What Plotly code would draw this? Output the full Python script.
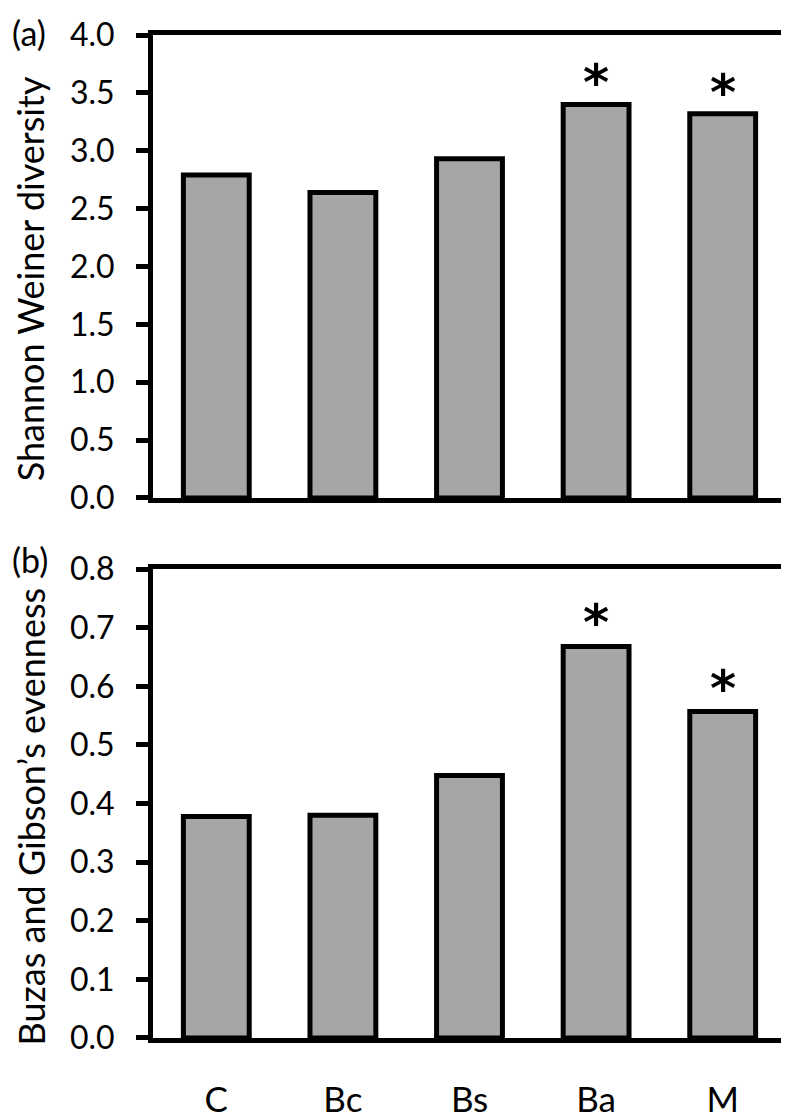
import plotly.graph_objects as go
from plotly.subplots import make_subplots

# data
sites = ["C", "Bc", "Bs", "Ba", "M"]
shannon = [2.79, 2.64, 2.93, 3.40, 3.32]
evenness = [0.378, 0.380, 0.448, 0.668, 0.557]
significant = [False, False, False, True, True]

FONT = "Lato"
BAR_COLOR = "#a6a6a6"

fig = make_subplots(rows=2, cols=1, shared_xaxes=False, vertical_spacing=0.071)

fig.add_trace(go.Bar(x=sites, y=shannon, marker=dict(color=BAR_COLOR, line=dict(color="black", width=5)),
                     showlegend=False), row=1, col=1)
fig.add_trace(go.Bar(x=sites, y=evenness, marker=dict(color=BAR_COLOR, line=dict(color="black", width=5)),
                     showlegend=False), row=2, col=1)

# significance stars
star_font = dict(family="DejaVu Sans", size=50, color="black", weight="bold")
for i, s in enumerate(sites):
    if not significant[i]:
        continue
    fig.add_annotation(x=s, y=shannon[i], xref="x", yref="y", text="*", showarrow=False,
                       yanchor="bottom", yshift=-10, font=star_font)
    fig.add_annotation(x=s, y=evenness[i], xref="x2", yref="y2", text="*", showarrow=False,
                       yanchor="bottom", yshift=-8, font=star_font)

axis_common = dict(showline=True, linecolor="black", linewidth=5, mirror=True, showgrid=False, zeroline=False)

fig.update_xaxes(**axis_common, ticks="", ticklabelstandoff=27,
                 tickfont=dict(family=FONT, size=35, color="black"))
fig.update_xaxes(showticklabels=False, row=1, col=1)
fig.update_yaxes(**axis_common, ticks="outside", ticklen=12, tickwidth=5, tickcolor="black",
                 ticklabelstandoff=15, tickfont=dict(family=FONT, size=32, color="black"), tickformat=".1f")
fig.update_yaxes(range=[0, 4.0], dtick=0.5, row=1, col=1)
fig.update_yaxes(range=[0, 0.8], dtick=0.1, row=2, col=1)

fig.update_layout(
    width=789, height=1117,
    margin=dict(l=145, r=6, t=25, b=78),
    plot_bgcolor="white", paper_bgcolor="white",
    bargap=0.48,
    font=dict(family=FONT, color="black"),
)
fig.update_layout(yaxis=dict(domain=[0.5385, 1.0]), yaxis2=dict(domain=[0.0, 0.4675]))

# axis titles and panel labels
fig.add_annotation(text="Shannon Weiner diversity", xref="paper", yref="y domain", x=-0.193, y=0.5,
                   xanchor="center", yanchor="middle", yshift=-12, textangle=-90, showarrow=False,
                   font=dict(family=FONT, size=36, color="black"))
fig.add_annotation(text="Buzas and Gibson\u2019s evenness", xref="paper", yref="y2 domain", x=-0.193, y=0.5,
                   xanchor="center", yanchor="middle", yshift=-13, textangle=-90, showarrow=False,
                   font=dict(family=FONT, size=36, color="black"))
fig.add_annotation(text="(a)", xref="paper", yref="paper", x=-0.226, y=1.025, xanchor="left", yanchor="top",
                   showarrow=False, font=dict(family=FONT, size=34, color="black"))
fig.add_annotation(text="(b)", xref="paper", yref="paper", x=-0.226, y=0.5, xanchor="left", yanchor="top",
                   showarrow=False, font=dict(family=FONT, size=34, color="black"))

fig.write_html("out.html")
